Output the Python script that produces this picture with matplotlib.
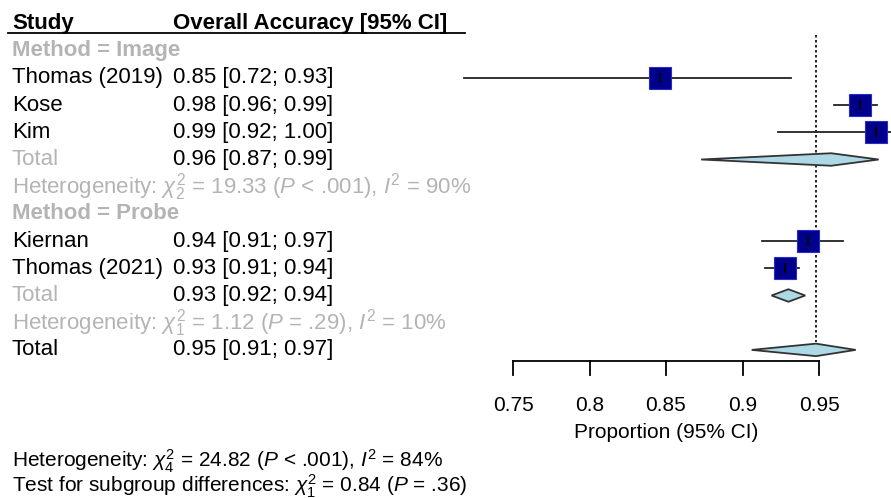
import matplotlib
matplotlib.use("Agg")
import matplotlib.pyplot as plt
import matplotlib.transforms as mtransforms
from matplotlib.patches import Polygon

plt.rcParams['font.family'] = ['Liberation Sans', 'DejaVu Sans']
plt.rcParams['mathtext.fontset'] = 'custom'
plt.rcParams['mathtext.rm'] = 'Liberation Sans'
plt.rcParams['mathtext.it'] = 'Liberation Sans:italic'
plt.rcParams['mathtext.bf'] = 'Liberation Sans:bold'

# study rows
studies = ["Thomas (2019)", "Kose", "Kim", "Kiernan", "Thomas (2021)"]
study_rows = [2, 3, 4, 8, 9]
est = [0.846, 0.977, 0.987, 0.943, 0.928]
lo = [0.718, 0.960, 0.923, 0.913, 0.915]
hi = [0.932, 0.988, 1.000, 0.966, 0.937]
study_text = ["0.85 [0.72; 0.93]", "0.98 [0.96; 0.99]", "0.99 [0.92; 1.00]",
              "0.94 [0.91; 0.97]", "0.93 [0.91; 0.94]"]

# pooled rows (two subgroups + overall)
pool_rows = [5, 10, 12]
pool_est = [0.958, 0.930, 0.948]
pool_lo = [0.873, 0.919, 0.906]
pool_hi = [0.989, 0.941, 0.974]
pool_text = ["0.96 [0.87; 0.99]", "0.93 [0.92; 0.94]", "0.95 [0.91; 0.97]"]

group_labels = ["Method = Image", "Method = Probe"]
group_rows = [1, 7]
het_rows = [6, 11]
het_text = [r"Heterogeneity: $\chi^2_2$ = 19.33 ($P$ < .001), $I^2$ = 90%",
            r"Heterogeneity: $\chi^2_1$ = 1.12 ($P$ = .29), $I^2$ = 10%"]

ticks = [0.75, 0.8, 0.85, 0.9, 0.95]
tick_labels = ["0.75", "0.8", "0.85", "0.9", "0.95"]
ref_value = 0.948

W, H = 891, 498
fig = plt.figure(figsize=(W / 100, H / 100), dpi=100)
x0, x1 = 513, 819
ax = fig.add_axes([x0 / W, 0, (x1 - x0) / W, 1])
ax.set_xlim(0.75, 0.95)
row0, drow = 23.5, 27.2
ax.set_ylim((H - row0) / drow, -row0 / drow)
ax.axis("off")

tr = mtransforms.blended_transform_factory(fig.transFigure, ax.transData)
xl = 12 / W
xv = 173 / W
gray = "#b4b4b4"
fs = 16

# header
ax.text(xl, 0, "Study", transform=tr, fontsize=fs, fontweight="bold", va="center")
ax.text(xv, 0, "Overall Accuracy [95% CI]", transform=tr, fontsize=fs,
        fontweight="bold", va="center")
ax.plot([8 / W, 465 / W], [0.36, 0.36], transform=tr, color="black", lw=1.3,
        clip_on=False)

for lab, r in zip(group_labels, group_rows):
    ax.text(xl, r, lab, transform=tr, fontsize=fs, fontweight="bold",
            color=gray, va="center")

for name, r, t in zip(studies, study_rows, study_text):
    ax.text(xl, r, name, transform=tr, fontsize=fs, va="center")
    ax.text(xv, r, t, transform=tr, fontsize=fs, va="center")

for i, (r, t) in enumerate(zip(pool_rows, pool_text)):
    ax.text(xl, r, "Total", transform=tr, fontsize=fs, va="center",
            color=gray if i < 2 else "black")
    ax.text(xv, r, t, transform=tr, fontsize=fs, va="center")

for r, t in zip(het_rows, het_text):
    ax.text(xl, r, t, transform=tr, fontsize=fs, va="center", color=gray)

# reference line
ax.plot([ref_value, ref_value], [0.42, 11.72], color="black", lw=1.2,
        ls=(0, (1.5, 1.5)), clip_on=False)

# study CIs and squares
for r, e, l, h in zip(study_rows, est, lo, hi):
    ax.plot([l, h], [r, r], color="#222222", lw=1.3, clip_on=False, zorder=2)
    ax.plot(e, r, marker="s", markersize=16, color="#00008b",
            markeredgecolor="#2a2ad0", markeredgewidth=0.8, clip_on=False, zorder=3)
    ax.plot(e, r, marker="|", markersize=7, color="black", mew=1.3,
            clip_on=False, zorder=4)

# diamonds
hh = 0.23
for r, e, l, h in zip(pool_rows, pool_est, pool_lo, pool_hi):
    poly = Polygon([(l, r), (e, r - hh), (h, r), (e, r + hh)], closed=True,
                   facecolor="#add8e6", edgecolor="#333333", lw=1.3,
                   clip_on=False, zorder=3)
    ax.add_patch(poly)

# x axis
ax_y = 12.41
ax.plot([ticks[0], ticks[-1]], [ax_y, ax_y], color="black", lw=1.3, clip_on=False)
for t, lab in zip(ticks, tick_labels):
    ax.plot([t, t], [ax_y, ax_y + 0.52], color="black", lw=1.3, clip_on=False)
    ax.text(t, 14.05, lab, fontsize=fs - 1, ha="center", va="center")
ax.text((ticks[0] + ticks[-1]) / 2, 15.05, "Proportion (95% CI)", fontsize=fs - 1,
        ha="center", va="center")

# overall statistics
ax.text(xl, 16.08, r"Heterogeneity: $\chi^2_4$ = 24.82 ($P$ < .001), $I^2$ = 84%",
        transform=tr, fontsize=fs - 1, va="center")
ax.text(xl, 17.0, r"Test for subgroup differences: $\chi^2_1$ = 0.84 ($P$ = .36)",
        transform=tr, fontsize=fs - 1, va="center")

fig.savefig("out.png", dpi=100)
